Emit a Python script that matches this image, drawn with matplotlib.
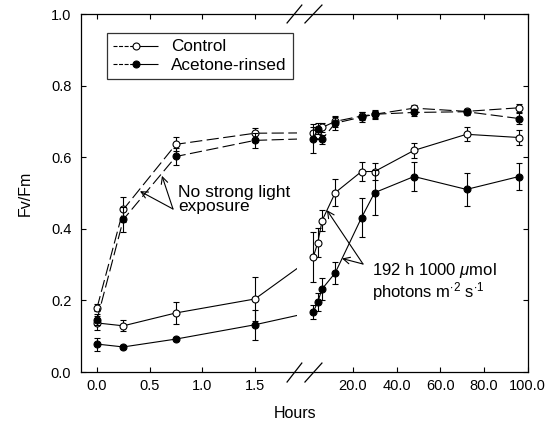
import numpy as np
import matplotlib
matplotlib.use("Agg")
import matplotlib.pyplot as plt
from matplotlib.lines import Line2D
from matplotlib.patches import Rectangle

plt.rcParams['font.family'] = ['Liberation Sans', 'DejaVu Sans']
plt.rcParams['mathtext.fontset'] = 'custom'
plt.rcParams['mathtext.rm'] = 'Liberation Sans'
plt.rcParams['mathtext.it'] = 'Liberation Sans:italic'

# ---------------- data ----------------
hours_early = [0.0, 0.25, 0.75, 1.5]
hours_late = [2, 4, 6, 12, 24, 30, 48, 72, 96]

# no strong light exposure (dashed)
ctrl_dark_early = [0.179, 0.454, 0.636, 0.667]
ctrl_dark_early_err = [0.010, 0.035, 0.020, 0.015]
acet_dark_early = [0.146, 0.426, 0.602, 0.647]
acet_dark_early_err = [0.015, 0.035, 0.025, 0.020]
ctrl_dark_late = [0.668, 0.662, 0.683, 0.700, 0.715, 0.720, 0.737, 0.728, 0.738]
ctrl_dark_late_err = [0.015, 0.012, 0.012, 0.015, 0.012, 0.010, 0.010, 0.008, 0.012]
acet_dark_late = [0.652, 0.680, 0.650, 0.695, 0.712, 0.720, 0.725, 0.727, 0.708]
acet_dark_late_err = [0.040, 0.015, 0.012, 0.018, 0.013, 0.012, 0.010, 0.008, 0.015]

# 192 h 1000 umol photons strong light (solid)
ctrl_light_early = [0.137, 0.129, 0.165, 0.204]
ctrl_light_early_err = [0.020, 0.015, 0.030, 0.062]
acet_light_early = [0.078, 0.070, 0.092, 0.132]
acet_light_early_err = [0.018, 0.005, 0.005, 0.042]
ctrl_light_late = [0.322, 0.361, 0.423, 0.501, 0.560, 0.560, 0.619, 0.664, 0.655]
ctrl_light_late_err = [0.070, 0.040, 0.030, 0.037, 0.027, 0.025, 0.020, 0.020, 0.020]
acet_light_late = [0.168, 0.196, 0.232, 0.277, 0.431, 0.501, 0.546, 0.510, 0.546]
acet_light_late_err = [0.020, 0.025, 0.030, 0.030, 0.055, 0.063, 0.040, 0.047, 0.037]

early_ticks = [0.0, 0.5, 1.0, 1.5]
late_ticks = [20, 40, 60, 80, 100]
y_ticks = [0.0, 0.2, 0.4, 0.6, 0.8, 1.0]
legend_labels = ['Control', 'Acetone-rinsed']

# ---------------- broken x scale ----------------
OFF = 10.0  # late hours are placed at OFF + hours


def fwd(t):
    t = np.asarray(t, dtype=float)
    return np.where(t <= 2.0, 97 + 105.3 * t,
                    np.where(t <= OFF, 307.6 + (t - 2.0) * (1.4 / (OFF - 2.0)),
                             309 + 2.1875 * (t - OFF)))


def inv(u):
    u = np.asarray(u, dtype=float)
    return np.where(u <= 307.6, (u - 97) / 105.3,
                    np.where(u <= 309, 2.0 + (u - 307.6) * ((OFF - 2.0) / 1.4),
                             OFF + (u - 309) / 2.1875))


late_x = [OFF + h for h in hours_late]

W, H = 554, 433
fig = plt.figure(figsize=(W / 100, H / 100), dpi=100)
ax = fig.add_axes([81 / W, 61 / H, 447 / W, 358 / H])
ax.set_xscale('function', functions=(fwd, inv))
ax.set_xlim(float(inv(81)), float(inv(528)))
ax.set_ylim(0, 1.0)

dash = (0, (11, 4))
lw = 0.8
common = dict(capsize=2.4, elinewidth=0.8, capthick=0.8, ms=5, mew=0.8, color='black')

series = [
    (hours_early, ctrl_dark_early, ctrl_dark_early_err, late_x, ctrl_dark_late, ctrl_dark_late_err, dash, 'white'),
    (hours_early, acet_dark_early, acet_dark_early_err, late_x, acet_dark_late, acet_dark_late_err, dash, 'black'),
    (hours_early, ctrl_light_early, ctrl_light_early_err, late_x, ctrl_light_late, ctrl_light_late_err, '-', 'white'),
    (hours_early, acet_light_early, acet_light_early_err, late_x, acet_light_late, acet_light_late_err, '-', 'black'),
]

break_frac = (297 - 81) / 447
clip_rect = Rectangle((0, 0), break_frac, 1, transform=ax.transAxes, visible=False)
ax.add_patch(clip_rect)

for xe, ye, ee, xl, yl, el, ls, fc in series:
    z = 4 if fc == 'black' else 3
    ax.errorbar(xe, ye, yerr=ee, fmt='o', ls=ls, lw=lw, mfc=fc, zorder=z, **common)
    ax.errorbar(xl, yl, yerr=el, fmt='o', ls=ls, lw=lw, mfc=fc, zorder=z, **common)
    # segment running into the axis break
    seg, = ax.plot([xe[-1], xl[0]], [ye[-1], yl[0]], ls=ls, lw=lw, color='black', zorder=2)
    seg.set_clip_path(clip_rect)

# ticks
ax.set_xticks(early_ticks + [OFF + t for t in late_ticks])
ax.set_xticklabels([f'{t:.1f}' for t in early_ticks] + [f'{t:.1f}' for t in late_ticks])
ax.set_yticks(y_ticks)
ax.set_yticklabels([f'{t:.1f}' for t in y_ticks])
ax.tick_params(direction='in', top=True, right=True, length=3.6, width=0.8,
               labelsize=10.5)
ax.tick_params(axis='y', pad=7)
ax.tick_params(axis='x', pad=5)
ax.minorticks_off()
for s in ax.spines.values():
    s.set_linewidth(0.9)

ax.set_xlabel('Hours', fontsize=11.5)
ax.xaxis.set_label_coords(0.48, -0.095)
ax.set_ylabel('Fv/Fm', fontsize=11.5)
ax.yaxis.set_label_coords(-0.108, 0.5)

# break marks
for y0, y1 in [(0.975, 1.025), (-0.028, 0.025)]:
    for x0, x1 in [(0.461, 0.494), (0.501, 0.539)]:
        ax.add_line(Line2D([x0, x1], [y0, y1], transform=ax.transAxes, color='black',
                           lw=0.9, clip_on=False))

# legend
leg_dash = (0, (3.6, 1.4, 3.6, 1.4, 3.6, 1.4, 40, 1))
handles = [Line2D([], [], color='black', lw=lw, ls=leg_dash, marker='o', ms=5, mfc='white', mew=0.8),
           Line2D([], [], color='black', lw=lw, ls=leg_dash, marker='o', ms=5, mfc='black', mew=0.8)]
leg = ax.legend(handles, legend_labels, loc='upper left', bbox_to_anchor=((107 - 81) / 447, (372 - 33) / 358),
                borderaxespad=0, fontsize=12.3, frameon=True, fancybox=False, handlelength=2.6,
                handletextpad=0.75, labelspacing=0.2, borderpad=0.38)
leg.get_frame().set_edgecolor('black')
leg.get_frame().set_linewidth(0.9)

# annotations
arrowprops = dict(arrowstyle='->', lw=0.8, color='black', shrinkA=0, shrinkB=0,
                  mutation_scale=12)
ax.annotate('', xy=(0.408, 0.505), xytext=((173 - 81) / 447, (372 - 209) / 358),
            textcoords='axes fraction', arrowprops=arrowprops)
ax.annotate('', xy=(0.617, 0.548), xytext=((173 - 81) / 447, (372 - 209) / 358),
            textcoords='axes fraction', arrowprops=arrowprops)
ax.text((178 - 81) / 447, (372 - 185) / 358, 'No strong light\nexposure', transform=ax.transAxes,
        ha='left', va='top', fontsize=12.5, linespacing=0.95)

ax.annotate('', xy=(OFF + 8.2, 0.452), xytext=((363 - 81) / 447, (372 - 264) / 358),
            textcoords='axes fraction', arrowprops=arrowprops)
ax.annotate('', xy=(OFF + 15.1, 0.317), xytext=((363 - 81) / 447, (372 - 264) / 358),
            textcoords='axes fraction', arrowprops=arrowprops)
ax.text((372 - 81) / 447, (372 - 261) / 358,
        '192 h 1000 $\\mathit{\\mu}$mol\nphotons m$^{\\cdot 2}$ s$^{\\cdot 1}$',
        transform=ax.transAxes, ha='left', va='top', fontsize=12, linespacing=1.0)

fig.savefig('out.png', dpi=100)
